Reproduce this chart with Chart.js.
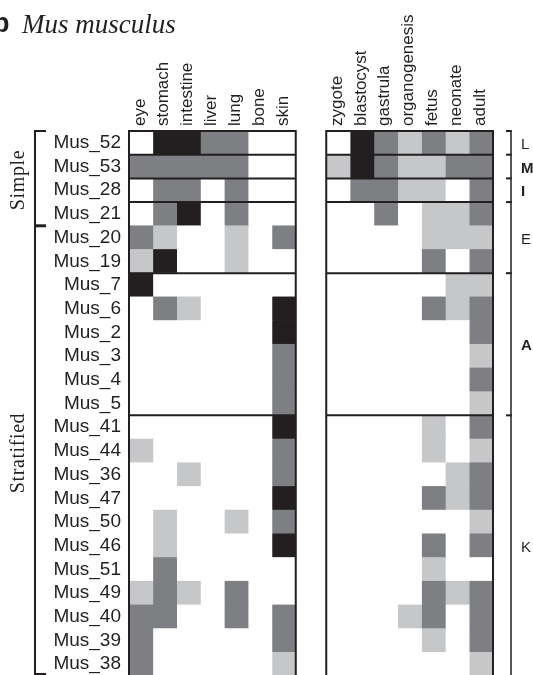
<!DOCTYPE html>
<html><head><meta charset="utf-8">
<script src="https://cdn.jsdelivr.net/npm/chart.js@4.4.1/dist/chart.umd.min.js"></script>
<style>
html,body{margin:0;padding:0;background:#fff;overflow:hidden;width:533px;height:675px}
#wrap{position:relative;width:533px;height:680px}
#c{position:absolute;left:0;top:0}
.t{position:absolute;color:#231f20;white-space:nowrap;line-height:1}
#panel{left:-7px;top:8px;font:bold 27px 'Liberation Sans',Arial,sans-serif}
#title{left:22px;top:9px;font:italic 27px 'Liberation Serif','Times New Roman',serif}
.side{font:20px 'Liberation Serif','Times New Roman',serif;transform:translate(-50%,-50%) rotate(-90deg);letter-spacing:0.6px}
.grp{font:15px 'Liberation Sans',Arial,sans-serif;transform:translateY(-50%)}
</style></head>
<body>
<div id="wrap">
<canvas id="c" width="533" height="680"></canvas>
<div class="t" id="panel">b</div>
<div class="t" id="title">Mus musculus</div>
<div class="t side" id="sideSimple">Simple</div>
<div class="t side" id="sideStrat">Stratified</div>
<div class="t grp" id="gL">L</div>
<div class="t grp" id="gM" style="font-weight:bold">M</div>
<div class="t grp" id="gI" style="font-weight:bold">I</div>
<div class="t grp" id="gE">E</div>
<div class="t grp" id="gA" style="font-weight:bold">A</div>
<div class="t grp" id="gK">K</div>
</div>
<script>
// ---- data ----
const rows = ['Mus_52','Mus_53','Mus_28','Mus_21','Mus_20','Mus_19','Mus_7','Mus_6','Mus_2','Mus_3','Mus_4','Mus_5',
  'Mus_41','Mus_44','Mus_36','Mus_47','Mus_50','Mus_46','Mus_51','Mus_49','Mus_40','Mus_39','Mus_38'];
const tissues = ['eye','stomach','intestine','liver','lung','bone','skin'];
const stages = ['zygote','blastocyst','gastrula','organogenesis','fetus','neonate','adult'];
// expression level: 0 none, 1 low (light grey), 2 medium (grey), 3 high (black)
const tissueLevels = [
  [0,3,3,2,2,0,0], // Mus_52
  [2,2,2,2,2,0,0], // Mus_53
  [0,2,2,0,2,0,0], // Mus_28
  [0,2,3,0,2,0,0], // Mus_21
  [2,1,0,0,1,0,2], // Mus_20
  [1,3,0,0,1,0,0], // Mus_19
  [3,0,0,0,0,0,0], // Mus_7
  [0,2,1,0,0,0,3], // Mus_6
  [0,0,0,0,0,0,3], // Mus_2
  [0,0,0,0,0,0,2], // Mus_3
  [0,0,0,0,0,0,2], // Mus_4
  [0,0,0,0,0,0,2], // Mus_5
  [0,0,0,0,0,0,3], // Mus_41
  [1,0,0,0,0,0,2], // Mus_44
  [0,0,1,0,0,0,2], // Mus_36
  [0,0,0,0,0,0,3], // Mus_47
  [0,1,0,0,1,0,2], // Mus_50
  [0,1,0,0,0,0,3], // Mus_46
  [0,2,0,0,0,0,0], // Mus_51
  [1,2,1,0,2,0,0], // Mus_49
  [2,2,0,0,2,0,2], // Mus_40
  [2,0,0,0,0,0,2], // Mus_39
  [2,0,0,0,0,0,1]  // Mus_38
];
const stageLevels = [
  [0,3,2,1,2,1,2], // Mus_52
  [1,3,2,1,1,2,2], // Mus_53
  [0,2,2,1,1,0,2], // Mus_28
  [0,0,2,0,1,1,2], // Mus_21
  [0,0,0,0,1,1,1], // Mus_20
  [0,0,0,0,2,0,2], // Mus_19
  [0,0,0,0,0,1,1], // Mus_7
  [0,0,0,0,2,1,2], // Mus_6
  [0,0,0,0,0,0,2], // Mus_2
  [0,0,0,0,0,0,1], // Mus_3
  [0,0,0,0,0,0,2], // Mus_4
  [0,0,0,0,0,0,1], // Mus_5
  [0,0,0,0,1,0,2], // Mus_41
  [0,0,0,0,1,0,1], // Mus_44
  [0,0,0,0,0,1,2], // Mus_36
  [0,0,0,0,2,1,2], // Mus_47
  [0,0,0,0,0,0,1], // Mus_50
  [0,0,0,0,2,0,2], // Mus_46
  [0,0,0,0,1,0,0], // Mus_51
  [0,0,0,0,2,1,2], // Mus_49
  [0,0,0,1,2,0,2], // Mus_40
  [0,0,0,0,1,0,2], // Mus_39
  [0,0,0,0,0,0,1]  // Mus_38
];
const separatorsAfter = [0,1,2,5,11];      // horizontal rules after these rows
const leftGroups = [{id:'sideSimple', from:0, to:3}, {id:'sideStrat', from:4, to:22}];
const rightGroups = [{id:'gL',from:0,to:0},{id:'gM',from:1,to:1},{id:'gI',from:2,to:2},
  {id:'gE',from:3,to:5},{id:'gA',from:6,to:11},{id:'gK',from:12,to:22}];

// ---- styling ----
const INK = '#231f20';
const palette = ['#ffffff','#c6c7c9','#7e7f83','#231f20'];
const GAP = 1.28;
const COL_FONT = 17;

const columns = tissues.map((name,i)=>({name, start:i, levels:tissueLevels.map(r=>r[i])}))
  .concat(stages.map((name,i)=>({name, start:7+GAP+i, levels:stageLevels.map(r=>r[i])})));

const datasets = columns.map(c => ({
  label: c.name,
  data: c.levels.map(() => [c.start, c.start + 1]),
  backgroundColor: c.levels.map(l => palette[l]),
  borderWidth: 0,
  grouped: false,
  barPercentage: 1,
  categoryPercentage: 1
}));

function boundaryY(ys, i) { // pixel between row i and i+1
  return (ys.getPixelForValue(i) + ys.getPixelForValue(i + 1)) / 2;
}
function rowTop(ys, i) { return i === 0 ? ys.top : boundaryY(ys, i - 1); }
function rowBottom(ys, i) { return i === rows.length - 1 ? ys.bottom : boundaryY(ys, i); }

const framePlugin = {
  id: 'frame',
  afterDatasetsDraw(chart) {
    const {ctx, scales:{x, y}} = chart;
    const top = y.top, bottom = y.bottom;
    const panels = [[x.getPixelForValue(0), x.getPixelForValue(7)],
                    [x.getPixelForValue(7 + GAP), x.getPixelForValue(14 + GAP)]];
    ctx.save();
    ctx.strokeStyle = INK;
    ctx.lineWidth = 2;
    panels.forEach(([a, b]) => {
      ctx.strokeRect(a, top, b - a, bottom - top);
      separatorsAfter.forEach(i => {
        const yy = boundaryY(y, i);
        ctx.beginPath(); ctx.moveTo(a, yy); ctx.lineTo(b, yy); ctx.stroke();
      });
    });
    // left bracket
    const lx = 35;
    ctx.lineWidth = 2;
    ctx.beginPath();
    ctx.moveTo(lx + 11, top); ctx.lineTo(lx, top); ctx.lineTo(lx, bottom - 2); ctx.lineTo(lx + 11, bottom - 2);
    ctx.stroke();
    ctx.lineWidth = 3;
    const sy = rowBottom(y, leftGroups[0].to);
    ctx.beginPath(); ctx.moveTo(lx, sy); ctx.lineTo(lx + 11, sy); ctx.stroke();
    // right bracket
    const rx = x.right + 18;
    ctx.lineWidth = 1.5;
    ctx.beginPath(); ctx.moveTo(rx, top); ctx.lineTo(rx, bottom); ctx.stroke();
    ctx.lineWidth = 2;
    [top].concat(separatorsAfter.map(i => boundaryY(y, i))).forEach(yy => {
      ctx.beginPath(); ctx.moveTo(rx - 5, yy); ctx.lineTo(rx + 0.75, yy); ctx.stroke();
    });
    ctx.restore();
  },
  afterDraw(chart) {
    const {scales:{x, y}} = chart;
    leftGroups.forEach(g => {
      const el = document.getElementById(g.id);
      el.style.left = '17px';
      el.style.top = ((rowTop(y, g.from) + rowBottom(y, g.to)) / 2 + 2) + 'px';
    });
    rightGroups.forEach(g => {
      const el = document.getElementById(g.id);
      el.style.left = (x.right + 28) + 'px';
      el.style.top = ((rowTop(y, g.from) + rowBottom(y, g.to)) / 2) + 'px';
    });
  }
};

new Chart(document.getElementById('c'), {
  type: 'bar',
  data: { labels: rows, datasets },
  options: {
    indexAxis: 'y',
    responsive: false,
    animation: false,
    layout: { padding: { top: 0, right: 40, bottom: 4, left: 0 } },
    plugins: { legend: { display: false }, tooltip: { enabled: false }, title: { display: false } },
    scales: {
      x: {
        type: 'linear', position: 'top', min: 0, max: 14 + GAP,
        grid: { display: false, drawTicks: false }, border: { display: false },
        afterBuildTicks: s => { s.ticks = columns.map(c => ({ value: c.start + 0.5 })); },
        afterFit: s => { s.height = 131; s.paddingLeft = 0; s.paddingRight = 0; },
        ticks: {
          autoSkip: false, minRotation: 90, maxRotation: 90, padding: 5,
          labelOffset: COL_FONT * 1.2 - 1,
          color: INK, font: { family: "'Liberation Sans', Arial, sans-serif", size: COL_FONT },
          callback: (v, i) => columns[i] ? columns[i].name : ''
        }
      },
      y: {
        type: 'category',
        grid: { display: false, drawTicks: false }, border: { display: false },
        afterFit: s => { s.width = 129; s.paddingTop = 0; s.paddingBottom = 0; },
        ticks: { autoSkip: false, padding: 8, color: INK, font: { family: "'Liberation Sans', Arial, sans-serif", size: 19 } }
      }
    }
  },
  plugins: [framePlugin]
});
</script>
</body></html>
